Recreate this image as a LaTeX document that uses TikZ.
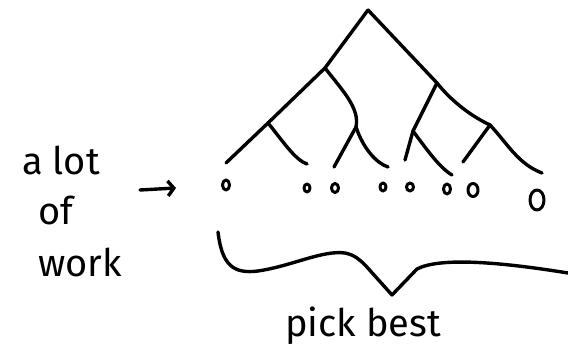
\documentclass[tikz,border=0pt]{standalone}
\usepackage{fontspec}
\setmainfont{Fira Sans}
\usetikzlibrary{arrows.meta,shapes.geometric}

\begin{document}
\begin{tikzpicture}[
  x=1pt, y=-1pt,
  line cap=round, line join=round,
  hand/.style={line width=3.4pt, black},
  leaf/.style={ellipse, draw, line width=3pt, inner sep=0pt,
               minimum width=6pt, minimum height=9pt},
  words/.style={font=\fontsize{38}{42}\selectfont, inner sep=0pt,
                anchor=base west},
  arr/.style={hand, -{Straight Barb[length=6pt, width=15pt]}},
]
\useasboundingbox (0,0) rectangle (568,358);

\node[words] (alot) at ( 22, 175) {a lot};
\node[words] (of)   at ( 38, 225) {of};
\node[words] (work) at ( 38, 277) {work};
\node[words] (pick) at (285, 337) {pick best};

\coordinate (root) at (368,  10);
\coordinate (n1)   at (325,  68);
\coordinate (n2)   at (437,  83);
\coordinate (n11)  at (268, 123);
\coordinate (n12)  at (356, 127);
\coordinate (n21)  at (413, 131);
\coordinate (n22)  at (490, 125);

\coordinate (t1) at (226, 163);
\coordinate (t2) at (307, 164);
\coordinate (t3) at (334, 167);
\coordinate (t4) at (388, 167);
\coordinate (t5) at (405, 160);
\coordinate (t6) at (452, 175);
\coordinate (t7) at (463, 162);
\coordinate (t8) at (542, 173);

\node[leaf, minimum width=7pt, minimum height=10pt] (leaf1) at (226, 185) {};
\node[leaf, minimum width=6pt, minimum height=8pt]  (leaf2) at (307, 188) {};
\node[leaf, minimum width=7pt, minimum height=9pt]  (leaf3) at (335, 188) {};
\node[leaf, minimum width=6pt, minimum height=8pt]  (leaf4) at (383, 187) {};
\node[leaf, minimum width=7pt, minimum height=8pt]  (leaf5) at (410, 187) {};
\node[leaf, minimum width=7pt, minimum height=10pt] (leaf6) at (447, 189) {};
\node[leaf, minimum width=10pt, minimum height=13pt] (leaf7) at (473, 190) {};
\node[leaf, minimum width=14pt, minimum height=20pt] (leaf8) at (537, 200) {};

\draw[hand] (root) -- (n1);
\draw[hand] (root) -- (n2);
\draw[hand] (n1) -- (n11);
\draw[hand] (n1) .. controls (342, 90) and (360, 108) .. (n12);
\draw[hand] (n2) -- (n21);
\draw[hand] (n2) .. controls (453, 103) and (473, 117) .. (n22);

\draw[hand] (n11) -- (t1);
\draw[hand] (n11) .. controls (282, 140) and (295, 160) .. (t2);
\draw[hand] (n12) -- (t3);
\draw[hand] (n12) .. controls (363, 148) and (376, 163) .. (t4);
\draw[hand] (n21) -- (t5);
\draw[hand] (n21) .. controls (427, 150) and (440, 168) .. (t6);
\draw[hand] (n22) -- (t7);
\draw[hand] (n22) .. controls (507, 143) and (518, 164) .. (t8);

\coordinate (arrowstart) at (140, 190);
\coordinate (arrowend)   at (176, 188);
\draw[arr] (arrowstart) -- (arrowend);

\coordinate (bl)  at (218, 232);
\coordinate (tip) at (392, 295);
\coordinate (br)  at (568, 273);
\draw[hand] (bl) .. controls (222, 266) and (234, 274) .. (258, 271)
  .. controls (292, 266) and (322, 250) .. (345, 253)
  .. controls (355, 255) and (360, 260) .. (366, 266)
  -- (tip) -- (417, 269)
  .. controls (440, 257) and (500, 262) .. (br);
\end{tikzpicture}
\end{document}
